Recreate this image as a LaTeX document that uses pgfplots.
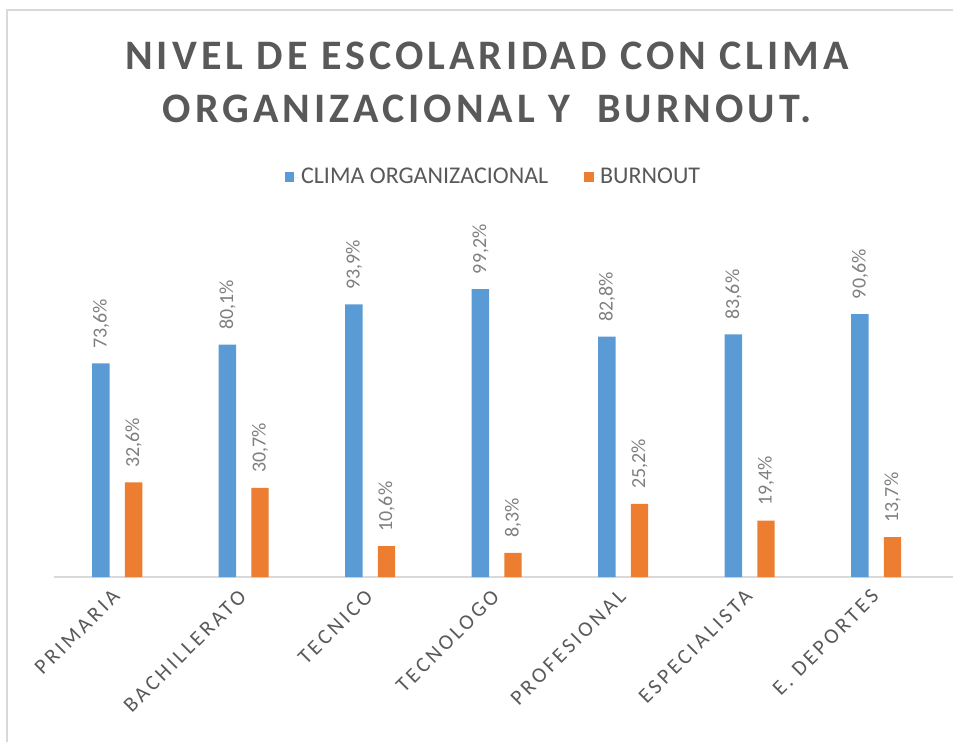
\documentclass[border=0pt]{standalone}
\usepackage{pgfplots}
\pgfplotsset{compat=1.18}
\usepackage{fontspec}
\setmainfont{Carlito}
\definecolor{cblue}{HTML}{5B9BD5}
\definecolor{corange}{HTML}{ED7D31}
\definecolor{ctext}{HTML}{595959}
\definecolor{clabel}{HTML}{7F7F7F}
\definecolor{cframe}{HTML}{D9D9D9}
\begin{document}
\begin{tikzpicture}
\useasboundingbox (0,0) rectangle (714.75pt,-556.5pt);
\draw[cframe, line width=1.1pt] (5.25pt,-7.5pt) rectangle (740pt,-600pt);
\begin{axis}[
  at={(40.5pt,-432.75pt)}, anchor=south west,
  scale only axis, width=675.5pt, height=283pt,
  xmin=-0.5, xmax=6.62, ymin=0, ymax=130,
  clip=false,
  axis x line=bottom, axis y line=none,
  axis line style={-, draw=cframe, line width=1.1pt},
  ytick=\empty,
  xtick={0,1,2,3,4,5,6},
  xticklabels={PRIMARIA,BACHILLERATO,TECNICO,TECNOLOGO,PROFESIONAL,ESPECIALISTA,E. DEPORTES},
  major tick length=0pt,
  xticklabel style={rotate=45, anchor=north east, inner sep=0pt, xshift=-9pt, yshift=-2.5pt,
    font=\fontsize{16}{18}\selectfont\addfontfeatures{LetterSpace=15}, text=ctext},
  /pgf/number format/assume math mode=true,
  ybar=11.3pt, bar width=13.1pt,
  nodes near coords={\pgfmathprintnumber[fixed,fixed zerofill,precision=1,use comma]{\pgfplotspointmeta}\%},
  every node near coord/.append style={rotate=90, anchor=west, inner xsep=11pt,
    font=\fontsize{15}{17}\selectfont, text=clabel},
  title={NIVEL DE ESCOLARIDAD CON CLIMA\\ORGANIZACIONAL Y\ \ BURNOUT.},
  title style={at={(rel axis cs:0.481,1.289)}, anchor=center, align=center,
    font=\fontsize{31.5}{39.75}\selectfont\bfseries\addfontfeatures{LetterSpace=9.5}, text=ctext},
  legend columns=2,
  legend style={at={(rel axis cs:0.4885,1.06)}, anchor=center, draw=none,
    font=\fontsize{18}{20}\selectfont, text=ctext,
    /tikz/every even column/.append style={column sep=25pt}},
  legend image code/.code={\draw[#1, draw=none] (0pt,-3.5pt) rectangle (7pt,3.5pt); \path (0pt,0pt) -- (10pt,0pt);},
]
\addplot[fill=cblue, draw=none] coordinates {(0,73.6) (1,80.1) (2,93.9) (3,99.2) (4,82.8) (5,83.6) (6,90.6)};
\addplot[fill=corange, draw=none] coordinates {(0,32.6) (1,30.7) (2,10.6) (3,8.3) (4,25.2) (5,19.4) (6,13.7)};
\legend{CLIMA ORGANIZACIONAL, BURNOUT}
\end{axis}
\end{tikzpicture}
\end{document}
